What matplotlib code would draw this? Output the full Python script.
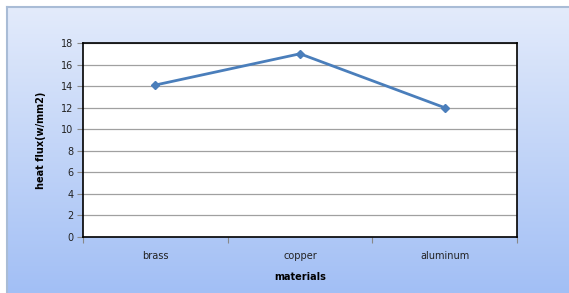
import numpy as np
import matplotlib
matplotlib.use("Agg")
import matplotlib.pyplot as plt
from matplotlib.colors import LinearSegmentedColormap

materials = ["brass", "copper", "aluminum"]
heat_flux = [14.1, 17.0, 12.0]
y_ticks = [0, 2, 4, 6, 8, 10, 12, 14, 16, 18]

fig = plt.figure(figsize=(5.69, 2.93), dpi=100)
fig.patch.set_facecolor("white")

# gradient background panel
bg = fig.add_axes([7 / 569, 0, 1 - 7 / 569, 1 - 7 / 293])
grad = LinearSegmentedColormap.from_list("g", ["#a2bff5", "#e3ebfb"])
bg.imshow(np.linspace(0, 1, 256).reshape(-1, 1), aspect="auto", cmap=grad,
          origin="lower", extent=[0, 1, 0, 1])
bg.set_xlim(0, 1)
bg.set_ylim(0, 1)
bg.set_xticks([])
bg.set_yticks([])
for side in ["right", "bottom"]:
    bg.spines[side].set_visible(False)
for side in ["left", "top"]:
    bg.spines[side].set_color("#a9bcd6")
    bg.spines[side].set_linewidth(1.5)

ax = fig.add_axes([83 / 569, 1 - 237 / 293, 434 / 569, 194 / 293])
ax.set_facecolor("white")
x = np.arange(len(materials))
ax.plot(x, heat_flux, color="#4a7ebb", lw=2, marker="D", ms=4.5, zorder=3)

ax.set_xlim(-0.5, len(materials) - 0.5)
ax.set_ylim(0, 18)
ax.set_yticks(y_ticks)
ax.yaxis.grid(True, color="#a0a0a0", lw=0.9)
ax.set_axisbelow(True)

ax.set_xticks(np.arange(-0.5, len(materials), 1.0))
ax.set_xticklabels([])
ax.set_xticks(x, minor=True)
ax.set_xticklabels(materials, minor=True, fontsize=7, color="#222222")
ax.tick_params(axis="x", which="minor", length=0, pad=10)
ax.tick_params(axis="x", which="major", length=4, color="#888888")
ax.tick_params(axis="y", length=4, color="#888888", labelsize=7,
               labelcolor="#222222", pad=3)

for side in ax.spines:
    ax.spines[side].set_color("black")
    ax.spines[side].set_linewidth(1.2)

ax.set_xlabel("materials", fontsize=7, fontweight="bold", labelpad=8)
ax.set_ylabel("heat flux(w/mm2)", fontsize=7, fontweight="bold", labelpad=11)

fig.savefig("out.png", dpi=100)
